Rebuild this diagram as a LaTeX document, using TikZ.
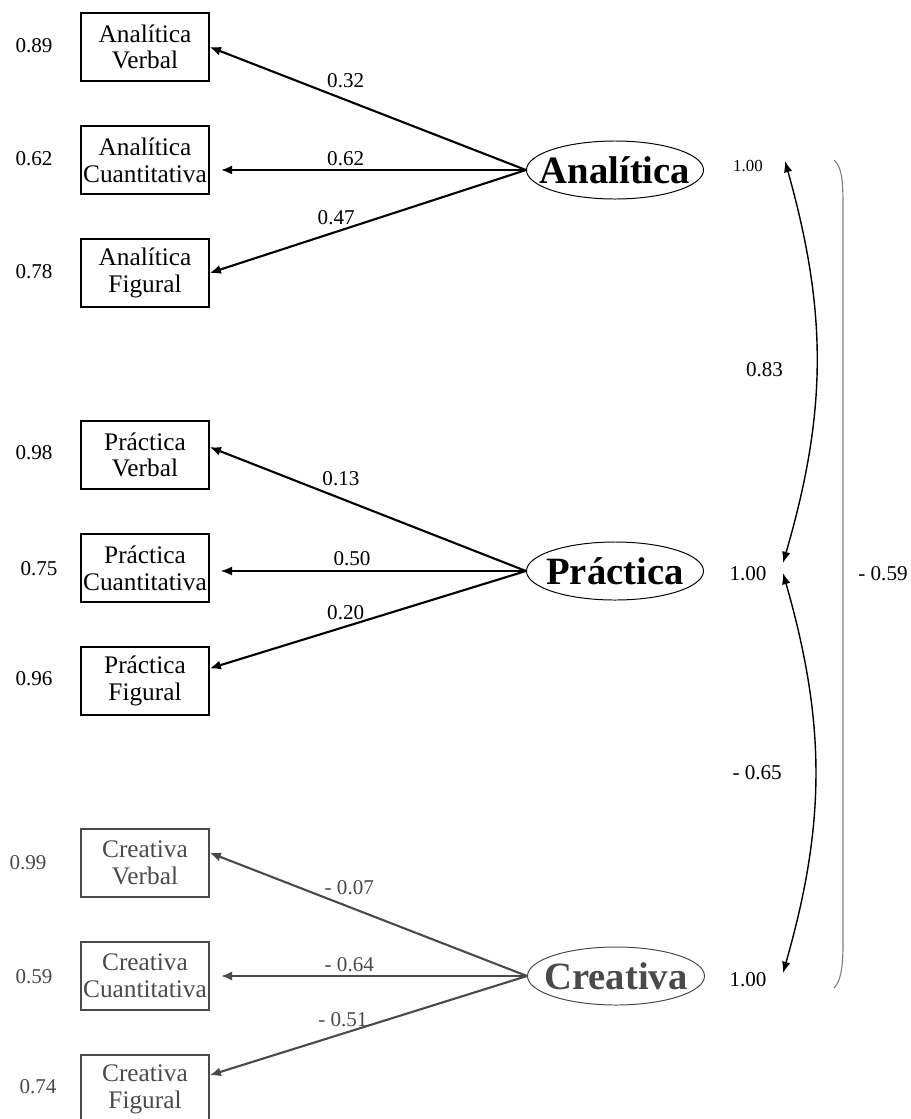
\documentclass[tikz,border=0pt]{standalone}
\usepackage{fontspec}
\setmainfont{Liberation Serif}
\usetikzlibrary{arrows.meta,positioning,calc,shapes.geometric}
\definecolor{crgray}{HTML}{4A4A4A}

\begin{document}
\begin{tikzpicture}[x=0.025cm,y=-0.025cm,font=\fontsize{15}{16}\selectfont,
  obs/.style={draw,line width=0.9pt,minimum width=3.2cm,minimum height=1.7cm,inner sep=0pt,align=center,font=\fontsize{18}{19}\selectfont},
  lat/.style={draw,ellipse,line width=0.7pt,minimum width=4.425cm,minimum height=1.45cm,inner xsep=-9pt,inner ysep=0pt,font=\fontsize{27.5}{30}\selectfont\bfseries},
  load/.style={-{Latex[length=8pt,width=6.5pt]},line width=1.5pt},
  cov/.style={{Latex[length=8pt,width=6pt]}-{Latex[length=8pt,width=6pt]},line width=1pt},
  coef/.style={inner sep=1pt}]
\useasboundingbox (0,0) rectangle (911,1119);
\node[lat] (an) at (615,170) {Analítica};
\node[obs] (av) at (145,47) {Analítica\\Verbal};
\node[obs] (ac) at (145,160) {Analítica\\Cuantitativa};
\node[obs] (af) at (145,273) {Analítica\\Figural};
\node at (34,46) {0.89};
\node at (34,159) {0.62};
\node at (34,272) {0.78};
\draw[load] (an.west) -- node[coef,pos=0.57,above=7pt]{0.32} (av.east);
\draw[load,shorten >=8pt] (an.west) -- node[coef,pos=0.57,above=1pt]{0.62} (ac.east |- an.west);
\draw[load] (an.west) -- node[coef,pos=0.6,above=3pt]{0.47} (af.east);

\node[lat] (pr) at (615,571) {Práctica};
\node[obs] (pv) at (145,455) {Práctica\\Verbal};
\node[obs] (pc) at (145,568) {Práctica\\Cuantitativa};
\node[obs] (pf) at (145,681) {Práctica\\Figural};
\node at (34,453) {0.98};
\node at (39,569) {0.75};
\node at (34,679) {0.96};
\draw[load] (pr.west) -- node[coef,pos=0.585,above=7pt]{0.13} (pv.7);
\draw[load,line width=0.9pt,shorten >=8pt] (pr.west) -- node[coef,pos=0.55,above=2pt]{0.50} (pc.east |- pr.west);
\draw[load] (pr.west) -- node[coef,pos=0.57,above=3pt]{0.20} (pf.11);

\begin{scope}[crgray]
\node[lat] (cr) at (616,976) {Creativa};
\node[obs] (cv) at (145,863) {Creativa\\Verbal};
\node[obs] (cc) at (145,976) {Creativa\\Cuantitativa};
\node[obs] (cf) at (145,1089) {Creativa\\Figural};
\node at (28,863) {0.99};
\node at (34,977) {0.59};
\node at (38,1087) {0.74};
\draw[load] (cr.west) -- node[coef,pos=0.56,above=7pt]{- 0.07} (cv.9);
\draw[load,shorten >=8pt] (cr.west) -- node[coef,pos=0.56,above=1pt]{- 0.64} (cc.east |- cr.west);
\draw[load] (cr.west) -- node[coef,pos=0.58,above=3pt]{- 0.51} (cf.12);
\end{scope}

\node[font=\fontsize{12}{14}\selectfont] (va) at (748,166) {1.00};
\node (vp) at (748,574) {1.00};
\node (vc) at (748,980) {1.00};
\coordinate (ca) at (785,161);
\coordinate (cp1) at (783,563);
\coordinate (cp2) at (783,573);
\coordinate (cc) at (783,973);
\draw[cov] (ca) to[bend left=16] node[pos=0.52,left=20pt]{0.83} (cp1);
\draw[cov] (cp2) to[bend left=16] node[pos=0.5,left=20pt]{- 0.65} (cc);
\coordinate (ba) at (834,160);
\coordinate (bc) at (834,988);
\draw[gray,line width=0.8pt] (ba) .. controls (843,168) and (843,185) .. (843,212) -- (843,945)
  .. controls (843,970) and (840,982) .. (bc);
\node at (883,574) {- 0.59};
\end{tikzpicture}
\end{document}
